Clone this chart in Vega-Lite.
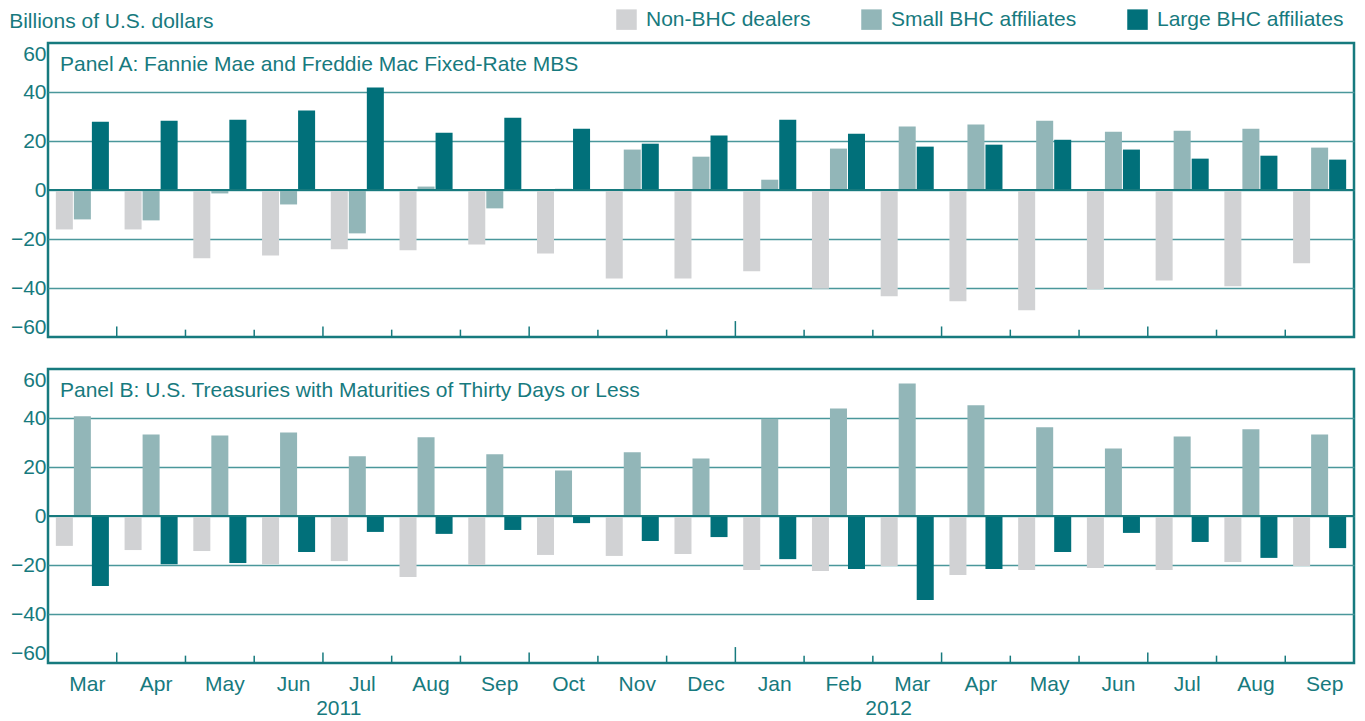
{
  "$schema": "https://vega.github.io/schema/vega-lite/v6.json",
  "padding": {"left": 9, "top": 9, "right": 8, "bottom": 0},
  "background": "white",
  "title": {"text": "Billions of U.S. dollars", "anchor": "start", "frame": "bounds", "offset": -40, "baseline": "alphabetic", "fontSize": 21, "fontWeight": "normal", "color": "#177A7E", "font": "Liberation Sans"},
  "datasets": {
    "A": [
      {"m": "Mar 2011", "s": "Non-BHC dealers", "v": -16.1}, {"m": "Mar 2011", "s": "Small BHC affiliates", "v": -12.0}, {"m": "Mar 2011", "s": "Large BHC affiliates", "v": 27.9},
      {"m": "Apr 2011", "s": "Non-BHC dealers", "v": -16.1}, {"m": "Apr 2011", "s": "Small BHC affiliates", "v": -12.4}, {"m": "Apr 2011", "s": "Large BHC affiliates", "v": 28.3},
      {"m": "May 2011", "s": "Non-BHC dealers", "v": -27.9}, {"m": "May 2011", "s": "Small BHC affiliates", "v": -1.4}, {"m": "May 2011", "s": "Large BHC affiliates", "v": 28.7},
      {"m": "Jun 2011", "s": "Non-BHC dealers", "v": -26.7}, {"m": "Jun 2011", "s": "Small BHC affiliates", "v": -5.9}, {"m": "Jun 2011", "s": "Large BHC affiliates", "v": 32.4},
      {"m": "Jul 2011", "s": "Non-BHC dealers", "v": -24.2}, {"m": "Jul 2011", "s": "Small BHC affiliates", "v": -17.7}, {"m": "Jul 2011", "s": "Large BHC affiliates", "v": 41.8},
      {"m": "Aug 2011", "s": "Non-BHC dealers", "v": -24.6}, {"m": "Aug 2011", "s": "Small BHC affiliates", "v": 1.4}, {"m": "Aug 2011", "s": "Large BHC affiliates", "v": 23.4},
      {"m": "Sep 2011", "s": "Non-BHC dealers", "v": -22.2}, {"m": "Sep 2011", "s": "Small BHC affiliates", "v": -7.5}, {"m": "Sep 2011", "s": "Large BHC affiliates", "v": 29.5},
      {"m": "Oct 2011", "s": "Non-BHC dealers", "v": -25.9}, {"m": "Oct 2011", "s": "Small BHC affiliates", "v": 0.5}, {"m": "Oct 2011", "s": "Large BHC affiliates", "v": 25.0},
      {"m": "Nov 2011", "s": "Non-BHC dealers", "v": -36.1}, {"m": "Nov 2011", "s": "Small BHC affiliates", "v": 16.5}, {"m": "Nov 2011", "s": "Large BHC affiliates", "v": 18.9},
      {"m": "Dec 2011", "s": "Non-BHC dealers", "v": -36.1}, {"m": "Dec 2011", "s": "Small BHC affiliates", "v": 13.6}, {"m": "Dec 2011", "s": "Large BHC affiliates", "v": 22.2},
      {"m": "Jan 2012", "s": "Non-BHC dealers", "v": -33.2}, {"m": "Jan 2012", "s": "Small BHC affiliates", "v": 4.2}, {"m": "Jan 2012", "s": "Large BHC affiliates", "v": 28.7},
      {"m": "Feb 2012", "s": "Non-BHC dealers", "v": -40.3}, {"m": "Feb 2012", "s": "Small BHC affiliates", "v": 16.9}, {"m": "Feb 2012", "s": "Large BHC affiliates", "v": 23.0},
      {"m": "Mar 2012", "s": "Non-BHC dealers", "v": -43.4}, {"m": "Mar 2012", "s": "Small BHC affiliates", "v": 25.9}, {"m": "Mar 2012", "s": "Large BHC affiliates", "v": 17.7},
      {"m": "Apr 2012", "s": "Non-BHC dealers", "v": -45.4}, {"m": "Apr 2012", "s": "Small BHC affiliates", "v": 26.7}, {"m": "Apr 2012", "s": "Large BHC affiliates", "v": 18.5},
      {"m": "May 2012", "s": "Non-BHC dealers", "v": -49.1}, {"m": "May 2012", "s": "Small BHC affiliates", "v": 28.3}, {"m": "May 2012", "s": "Large BHC affiliates", "v": 20.5},
      {"m": "Jun 2012", "s": "Non-BHC dealers", "v": -40.5}, {"m": "Jun 2012", "s": "Small BHC affiliates", "v": 23.8}, {"m": "Jun 2012", "s": "Large BHC affiliates", "v": 16.5},
      {"m": "Jul 2012", "s": "Non-BHC dealers", "v": -36.9}, {"m": "Jul 2012", "s": "Small BHC affiliates", "v": 24.2}, {"m": "Jul 2012", "s": "Large BHC affiliates", "v": 12.8},
      {"m": "Aug 2012", "s": "Non-BHC dealers", "v": -39.3}, {"m": "Aug 2012", "s": "Small BHC affiliates", "v": 25.0}, {"m": "Aug 2012", "s": "Large BHC affiliates", "v": 14.0},
      {"m": "Sep 2012", "s": "Non-BHC dealers", "v": -29.9}, {"m": "Sep 2012", "s": "Small BHC affiliates", "v": 17.3}, {"m": "Sep 2012", "s": "Large BHC affiliates", "v": 12.4}
    ],
    "B": [
      {"m": "Mar 2011", "s": "Non-BHC dealers", "v": -12.2}, {"m": "Mar 2011", "s": "Small BHC affiliates", "v": 40.7}, {"m": "Mar 2011", "s": "Large BHC affiliates", "v": -28.6},
      {"m": "Apr 2011", "s": "Non-BHC dealers", "v": -13.9}, {"m": "Apr 2011", "s": "Small BHC affiliates", "v": 33.3}, {"m": "Apr 2011", "s": "Large BHC affiliates", "v": -19.7},
      {"m": "May 2011", "s": "Non-BHC dealers", "v": -14.3}, {"m": "May 2011", "s": "Small BHC affiliates", "v": 32.9}, {"m": "May 2011", "s": "Large BHC affiliates", "v": -19.2},
      {"m": "Jun 2011", "s": "Non-BHC dealers", "v": -19.7}, {"m": "Jun 2011", "s": "Small BHC affiliates", "v": 34.1}, {"m": "Jun 2011", "s": "Large BHC affiliates", "v": -14.7},
      {"m": "Jul 2011", "s": "Non-BHC dealers", "v": -18.4}, {"m": "Jul 2011", "s": "Small BHC affiliates", "v": 24.4}, {"m": "Jul 2011", "s": "Large BHC affiliates", "v": -6.5},
      {"m": "Aug 2011", "s": "Non-BHC dealers", "v": -24.9}, {"m": "Aug 2011", "s": "Small BHC affiliates", "v": 32.1}, {"m": "Aug 2011", "s": "Large BHC affiliates", "v": -7.3},
      {"m": "Sep 2011", "s": "Non-BHC dealers", "v": -20.0}, {"m": "Sep 2011", "s": "Small BHC affiliates", "v": 25.2}, {"m": "Sep 2011", "s": "Large BHC affiliates", "v": -5.7},
      {"m": "Oct 2011", "s": "Non-BHC dealers", "v": -15.9}, {"m": "Oct 2011", "s": "Small BHC affiliates", "v": 18.6}, {"m": "Oct 2011", "s": "Large BHC affiliates", "v": -2.9},
      {"m": "Nov 2011", "s": "Non-BHC dealers", "v": -16.3}, {"m": "Nov 2011", "s": "Small BHC affiliates", "v": 26.0}, {"m": "Nov 2011", "s": "Large BHC affiliates", "v": -10.2},
      {"m": "Dec 2011", "s": "Non-BHC dealers", "v": -15.5}, {"m": "Dec 2011", "s": "Small BHC affiliates", "v": 23.5}, {"m": "Dec 2011", "s": "Large BHC affiliates", "v": -8.6},
      {"m": "Jan 2012", "s": "Non-BHC dealers", "v": -22.0}, {"m": "Jan 2012", "s": "Small BHC affiliates", "v": 39.7}, {"m": "Jan 2012", "s": "Large BHC affiliates", "v": -17.6},
      {"m": "Feb 2012", "s": "Non-BHC dealers", "v": -22.4}, {"m": "Feb 2012", "s": "Small BHC affiliates", "v": 43.9}, {"m": "Feb 2012", "s": "Large BHC affiliates", "v": -21.6},
      {"m": "Mar 2012", "s": "Non-BHC dealers", "v": -20.4}, {"m": "Mar 2012", "s": "Small BHC affiliates", "v": 54.1}, {"m": "Mar 2012", "s": "Large BHC affiliates", "v": -34.3},
      {"m": "Apr 2012", "s": "Non-BHC dealers", "v": -24.1}, {"m": "Apr 2012", "s": "Small BHC affiliates", "v": 45.2}, {"m": "Apr 2012", "s": "Large BHC affiliates", "v": -21.6},
      {"m": "May 2012", "s": "Non-BHC dealers", "v": -22.0}, {"m": "May 2012", "s": "Small BHC affiliates", "v": 36.2}, {"m": "May 2012", "s": "Large BHC affiliates", "v": -14.7},
      {"m": "Jun 2012", "s": "Non-BHC dealers", "v": -21.2}, {"m": "Jun 2012", "s": "Small BHC affiliates", "v": 27.6}, {"m": "Jun 2012", "s": "Large BHC affiliates", "v": -6.9},
      {"m": "Jul 2012", "s": "Non-BHC dealers", "v": -22.0}, {"m": "Jul 2012", "s": "Small BHC affiliates", "v": 32.5}, {"m": "Jul 2012", "s": "Large BHC affiliates", "v": -10.6},
      {"m": "Aug 2012", "s": "Non-BHC dealers", "v": -18.8}, {"m": "Aug 2012", "s": "Small BHC affiliates", "v": 35.4}, {"m": "Aug 2012", "s": "Large BHC affiliates", "v": -17.1},
      {"m": "Sep 2012", "s": "Non-BHC dealers", "v": -20.4}, {"m": "Sep 2012", "s": "Small BHC affiliates", "v": 33.3}, {"m": "Sep 2012", "s": "Large BHC affiliates", "v": -13.1}
    ],
    "years": [{"m": "Jul 2011", "t": "2011"}, {"m": "Mar 2012", "t": "2012"}]
  },
  "spacing": 28,
  "resolve": {"scale": {"color": "shared"}, "legend": {"color": "shared"}},
  "vconcat": [
    {
      "width": 1306,
      "height": 294,
      "data": {"name": "A"},
      "title": {"text": "Panel A: Fannie Mae and Freddie Mac Fixed-Rate MBS", "anchor": "start", "frame": "group", "offset": -49, "dx": 12, "baseline": "alphabetic", "fontSize": 21, "fontWeight": "normal", "color": "#177A7E", "font": "Liberation Sans"},
      "layer": [
        {
          "mark": {"type": "bar"},
          "encoding": {
            "x": {"field": "m", "type": "nominal", "scale": {"domain": ["Mar 2011","Apr 2011","May 2011","Jun 2011","Jul 2011","Aug 2011","Sep 2011","Oct 2011","Nov 2011","Dec 2011","Jan 2012","Feb 2012","Mar 2012","Apr 2012","May 2012","Jun 2012","Jul 2012","Aug 2012","Sep 2012"], "paddingInner": 0, "paddingOuter": 0}, "axis": null},
            "xOffset": {"field": "s", "type": "nominal", "sort": ["Non-BHC dealers", "Small BHC affiliates", "Large BHC affiliates"], "scale": {"paddingInner": 0.056, "paddingOuter": 0.435}},
            "y": {"field": "v", "type": "quantitative", "scale": {"domain": [-60, 60], "nice": false},
              "axis": {"values": [-60, -40, -20, 0, 20, 40, 60], "title": null, "ticks": false, "domain": false, "labelFlush": true, "labelPadding": 2, "grid": true, "gridOpacity": {"condition": {"test": "abs(datum.value) == 60", "value": 0}, "value": 1}}},
            "color": {"field": "s", "type": "nominal", "scale": {"domain": ["Non-BHC dealers", "Small BHC affiliates", "Large BHC affiliates"], "range": ["#D1D2D4", "#92B6B8", "#01707A"]},
              "legend": {"orient": "none", "legendX": 568, "legendY": -34, "direction": "horizontal", "title": null, "symbolType": "square", "symbolSize": 420, "symbolStrokeWidth": 0, "labelFontSize": 21, "labelOffset": 9, "columnPadding": 50, "labelColor": "#177A7E", "labelLimit": 0, "labelFont": "Liberation Sans", "padding": 0}}
          }
        },
        {"data": {"values": [{}]}, "mark": {"type": "rule", "color": "#177A7E", "strokeWidth": 2}, "encoding": {"y": {"datum": 0}}},
        {"transform": [{"filter": "datum.s === 'Large BHC affiliates' && indexof(['Apr 2011','May 2011','Jul 2011','Aug 2011','Oct 2011','Nov 2011','Jan 2012','Feb 2012','Apr 2012','May 2012','Jul 2012','Aug 2012'], datum.m) >= 0"}],
         "mark": {"type": "rule", "color": "#177A7E", "strokeWidth": 1.5},
         "encoding": {"x": {"field": "m", "type": "nominal", "bandPosition": 1}, "y": {"datum": -60}, "y2": {"datum": -57}}},
        {"transform": [{"filter": "datum.s === 'Large BHC affiliates' && indexof(['Mar 2011','Jun 2011','Sep 2011','Mar 2012','Jun 2012'], datum.m) >= 0"}],
         "mark": {"type": "rule", "color": "#177A7E", "strokeWidth": 1.5},
         "encoding": {"x": {"field": "m", "type": "nominal", "bandPosition": 1}, "y": {"datum": -60}, "y2": {"datum": -55.7}}},
        {"transform": [{"filter": "datum.s === 'Large BHC affiliates' && datum.m === 'Dec 2011'"}],
         "mark": {"type": "rule", "color": "#177A7E", "strokeWidth": 1.5},
         "encoding": {"x": {"field": "m", "type": "nominal", "bandPosition": 1}, "y": {"datum": -60}, "y2": {"datum": -53.5}}}
      ]
    },
    {
      "width": 1306,
      "height": 294,
      "data": {"name": "B"},
      "title": {"text": "Panel B: U.S. Treasuries with Maturities of Thirty Days or Less", "anchor": "start", "frame": "group", "offset": -49, "dx": 12, "baseline": "alphabetic", "fontSize": 21, "fontWeight": "normal", "color": "#177A7E", "font": "Liberation Sans"},
      "layer": [
        {
          "mark": {"type": "bar"},
          "encoding": {
            "x": {"field": "m", "type": "nominal", "scale": {"domain": ["Mar 2011","Apr 2011","May 2011","Jun 2011","Jul 2011","Aug 2011","Sep 2011","Oct 2011","Nov 2011","Dec 2011","Jan 2012","Feb 2012","Mar 2012","Apr 2012","May 2012","Jun 2012","Jul 2012","Aug 2012","Sep 2012"], "paddingInner": 0, "paddingOuter": 0},
              "axis": {"title": null, "ticks": false, "domain": false, "labelPadding": 10, "labelOffset": 5, "labelAngle": 0, "labelOverlap": false, "labelExpr": "split(datum.value, ' ')[0]"}},
            "xOffset": {"field": "s", "type": "nominal", "sort": ["Non-BHC dealers", "Small BHC affiliates", "Large BHC affiliates"], "scale": {"paddingInner": 0.056, "paddingOuter": 0.435}},
            "y": {"field": "v", "type": "quantitative", "scale": {"domain": [-60, 60], "nice": false},
              "axis": {"values": [-60, -40, -20, 0, 20, 40, 60], "title": null, "ticks": false, "domain": false, "labelFlush": true, "labelPadding": 2, "grid": true, "gridOpacity": {"condition": {"test": "abs(datum.value) == 60", "value": 0}, "value": 1}}},
            "color": {"field": "s", "type": "nominal", "scale": {"domain": ["Non-BHC dealers", "Small BHC affiliates", "Large BHC affiliates"], "range": ["#D1D2D4", "#92B6B8", "#01707A"]},
              "legend": {"orient": "none", "legendX": 568, "legendY": -34, "direction": "horizontal", "title": null, "symbolType": "square", "symbolSize": 420, "symbolStrokeWidth": 0, "labelFontSize": 21, "labelOffset": 9, "columnPadding": 50, "labelColor": "#177A7E", "labelLimit": 0, "labelFont": "Liberation Sans", "padding": 0}}
          }
        },
        {"data": {"values": [{}]}, "mark": {"type": "rule", "color": "#177A7E", "strokeWidth": 2}, "encoding": {"y": {"datum": 0}}},
        {"transform": [{"filter": "datum.s === 'Large BHC affiliates' && indexof(['Apr 2011','May 2011','Jul 2011','Aug 2011','Oct 2011','Nov 2011','Jan 2012','Feb 2012','Apr 2012','May 2012','Jul 2012','Aug 2012'], datum.m) >= 0"}],
         "mark": {"type": "rule", "color": "#177A7E", "strokeWidth": 1.5},
         "encoding": {"x": {"field": "m", "type": "nominal", "bandPosition": 1}, "y": {"datum": -60}, "y2": {"datum": -57}}},
        {"transform": [{"filter": "datum.s === 'Large BHC affiliates' && indexof(['Mar 2011','Jun 2011','Sep 2011','Mar 2012','Jun 2012'], datum.m) >= 0"}],
         "mark": {"type": "rule", "color": "#177A7E", "strokeWidth": 1.5},
         "encoding": {"x": {"field": "m", "type": "nominal", "bandPosition": 1}, "y": {"datum": -60}, "y2": {"datum": -55.7}}},
        {"transform": [{"filter": "datum.s === 'Large BHC affiliates' && datum.m === 'Dec 2011'"}],
         "mark": {"type": "rule", "color": "#177A7E", "strokeWidth": 1.5},
         "encoding": {"x": {"field": "m", "type": "nominal", "bandPosition": 1}, "y": {"datum": -60}, "y2": {"datum": -53.5}}},
        {"data": {"name": "years"},
         "mark": {"type": "text", "baseline": "alphabetic", "align": "center", "dy": 52, "fontSize": 21, "color": "#177A7E", "font": "Liberation Sans"},
         "encoding": {"x": {"field": "m", "type": "nominal", "bandPosition": 0.23}, "y": {"datum": -60}, "text": {"field": "t"}}}
      ]
    }
  ],
  "config": {
    "font": "Liberation Sans",
    "view": {"stroke": "#177A7E", "strokeWidth": 2.5},
    "axis": {"labelFont": "Liberation Sans", "labelFontSize": 21, "labelColor": "#177A7E", "gridColor": "#4A979B", "gridWidth": 1.5},
    "legend": {"labelFont": "Liberation Sans"}
  }
}
